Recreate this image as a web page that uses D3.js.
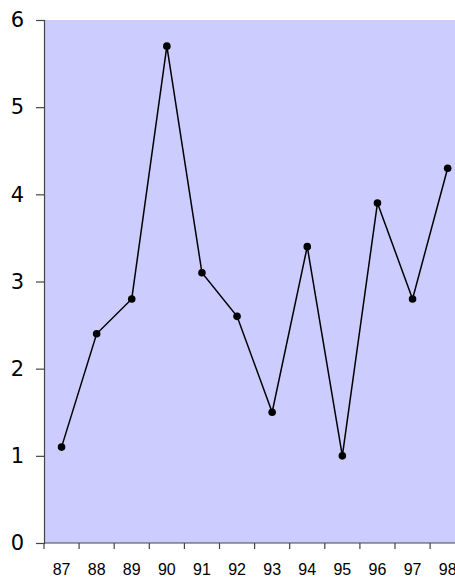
<!DOCTYPE html>
<html>
<head>
<meta charset="utf-8">
<script src="https://cdn.jsdelivr.net/npm/d3@7"></script>
<style>
  html, body { margin: 0; padding: 0; background: #ffffff; }
  svg { display: block; }
</style>
</head>
<body>
<svg id="chart" width="455" height="577"></svg>
<script>
// Yearly values, 1987–1998
const years = ["87", "88", "89", "90", "91", "92", "93", "94", "95", "96", "97", "98"];
const values = [1.1, 2.4, 2.8, 5.7, 3.1, 2.6, 1.5, 3.4, 1.0, 3.9, 2.8, 4.3];
const yTicks = [0, 1, 2, 3, 4, 5, 6];

const svg = d3.select("#chart");
const W = 455, H = 577;
const margin = { left: 44, top: 20, bottom: 34 };
const bandW = 35.1;
const plotW = bandW * years.length;
const plotH = H - margin.top - margin.bottom;

const x = d3.scaleBand().domain(years).range([margin.left, margin.left + plotW]).paddingInner(0).paddingOuter(0);
const y = d3.scaleLinear().domain([0, 6]).range([margin.top + plotH, margin.top]);

// plot background
svg.append("rect")
  .attr("x", margin.left).attr("y", margin.top)
  .attr("width", plotW).attr("height", plotH)
  .attr("fill", "#ccccff");

// y axis
const yAxis = svg.append("g")
  .attr("transform", `translate(${margin.left},0)`)
  .call(d3.axisLeft(y).tickValues(yTicks).tickSize(8).tickPadding(12).tickFormat(d3.format("d")));
yAxis.select(".domain").attr("stroke", "#444").attr("stroke-width", 1.2);
yAxis.selectAll(".tick line").attr("stroke", "#444").attr("stroke-width", 1.2);
yAxis.selectAll(".tick text")
  .attr("fill", "#000")
  .style("font-family", "'DejaVu Sans', sans-serif")
  .style("font-size", "21px");

// x axis: ticks sit on category boundaries
const xAxisG = svg.append("g")
  .attr("transform", `translate(0,${margin.top + plotH})`);
xAxisG.append("line")
  .attr("x1", margin.left).attr("x2", margin.left + plotW)
  .attr("stroke", "#444").attr("stroke-width", 1.2);
xAxisG.selectAll("line.tk")
  .data(years)
  .join("line")
  .attr("class", "tk")
  .attr("x1", d => x(d)).attr("x2", d => x(d))
  .attr("y1", 0).attr("y2", 6)
  .attr("stroke", "#444").attr("stroke-width", 1.2);
xAxisG.selectAll("text")
  .data(years)
  .join("text")
  .attr("x", d => x(d) + x.bandwidth() / 2)
  .attr("y", 32)
  .attr("text-anchor", "middle")
  .style("font-family", "'Liberation Sans', Arial, sans-serif")
  .style("font-size", "16px")
  .attr("fill", "#000")
  .text(d => d);

// series line and markers
const cx = (d, i) => x(years[i]) + x.bandwidth() / 2;
const line = d3.line().x(cx).y(d => y(d));
svg.append("path")
  .datum(values)
  .attr("d", line)
  .attr("fill", "none")
  .attr("stroke", "#000")
  .attr("stroke-width", 1.5);
svg.selectAll("circle.pt")
  .data(values)
  .join("circle")
  .attr("class", "pt")
  .attr("cx", cx)
  .attr("cy", d => y(d))
  .attr("r", 3.8)
  .attr("fill", "#000");
</script>
</body>
</html>
